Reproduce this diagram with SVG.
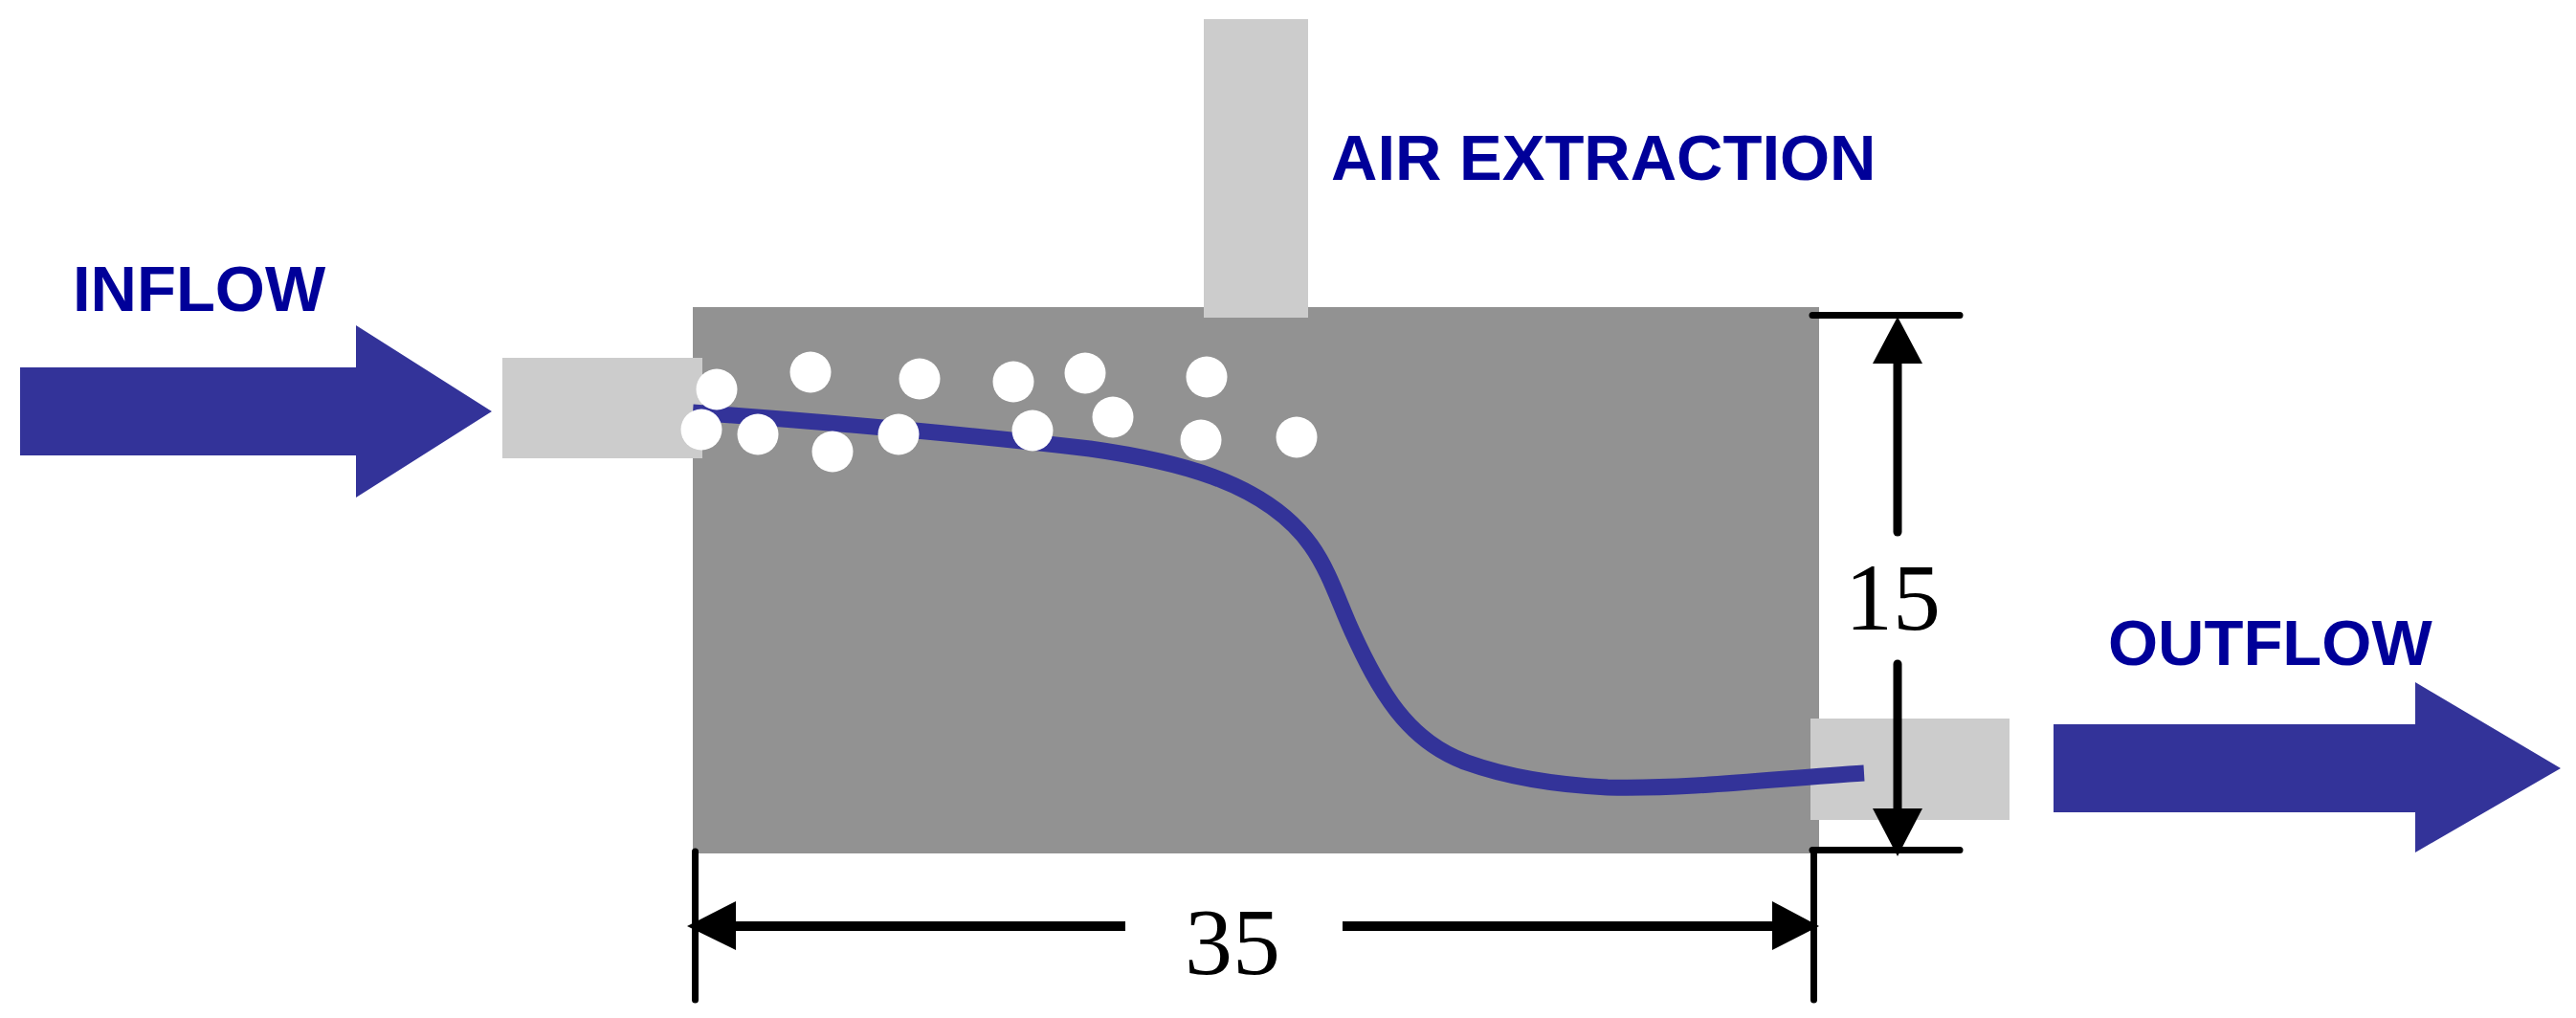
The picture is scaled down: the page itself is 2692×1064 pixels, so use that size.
<svg xmlns="http://www.w3.org/2000/svg" width="2692" height="1064" viewBox="0 0 2692 1064">
  <style>
    .lbl { font-family: "Liberation Sans", Arial, sans-serif; font-weight: bold; font-size: 67px; fill: #000099; }
    .dim { font-family: "Liberation Serif", "Times New Roman", serif; font-size: 100px; fill: #000000; }
    .port { fill: #CCCCCC; }
    .flow { fill: #333399; }
    .bubble { fill: #FFFFFF; }
    .dline { stroke: #000000; fill: none; stroke-linecap: round; }
    .ahead { fill: #000000; }
  </style>
  <rect width="2692" height="1064" fill="#FFFFFF"/>

  <g id="tank">
    <rect x="724" y="321" width="1177" height="571" fill="#929292"/>
  </g>

  <g id="inlet">
    <rect class="port" x="525" y="374" width="209" height="105"/>
  </g>
  <g id="air-extraction-duct">
    <rect class="port" x="1258" y="20" width="109" height="312"/>
  </g>
  <g id="outlet">
    <rect class="port" x="1892" y="751" width="208" height="106"/>
  </g>

  <g id="flow-path">
    <path d="M724,431 C862.7,441 1001,453 1139,469 C1222,480.7 1321.2,501.6 1370,570 C1389.2,596.9 1399.3,630 1413,660 C1426.2,688.9 1440.4,717.9 1460,743 C1478.7,766.9 1504.5,786.7 1533,797 C1579.8,813.8 1630.4,820.5 1680,823 C1769,825 1859.2,813.3 1948,808" fill="none" stroke="#333399" stroke-width="17"/>
  </g>

  <g id="bubbles">
    <circle class="bubble" cx="749" cy="407" r="21.5"/>
    <circle class="bubble" cx="847" cy="389" r="21.5"/>
    <circle class="bubble" cx="961" cy="396" r="21.5"/>
    <circle class="bubble" cx="1059" cy="399" r="21.5"/>
    <circle class="bubble" cx="1134" cy="390" r="21.5"/>
    <circle class="bubble" cx="1261" cy="394" r="21.5"/>
    <circle class="bubble" cx="1163" cy="436" r="21.5"/>
    <circle class="bubble" cx="733" cy="449" r="21.5"/>
    <circle class="bubble" cx="792" cy="454" r="21.5"/>
    <circle class="bubble" cx="870" cy="472" r="21.5"/>
    <circle class="bubble" cx="939" cy="454" r="21.5"/>
    <circle class="bubble" cx="1079" cy="450" r="21.5"/>
    <circle class="bubble" cx="1255" cy="460" r="21.5"/>
    <circle class="bubble" cx="1355" cy="457" r="21.5"/>
  </g>

  <g id="inflow-arrow">
    <polygon class="flow" points="21,384 372,384 372,340 514,430 372,520 372,476 21,476"/>
  </g>
  <g id="outflow-arrow">
    <polygon class="flow" points="2146,757 2524,757 2524,713 2676,803 2524,891 2524,849 2146,849"/>
  </g>

  <g id="labels">
    <text class="lbl" x="76" y="325">INFLOW</text>
    <text class="lbl" x="1391" y="188">AIR EXTRACTION</text>
    <text class="lbl" x="2203" y="695">OUTFLOW</text>
  </g>

  <g id="connectors">
    <!-- height dimension (15) -->
    <line class="dline" x1="1894" y1="329.5" x2="2048" y2="329.5" stroke-width="7"/>
    <line class="dline" x1="1894" y1="888.5" x2="2048" y2="888.5" stroke-width="7"/>
    <line class="dline" x1="1983" y1="378" x2="1983" y2="556" stroke-width="9"/>
    <line class="dline" x1="1983" y1="694" x2="1983" y2="847" stroke-width="9"/>
    <polygon class="ahead" points="1983,331 2009,380 1957,380"/>
    <polygon class="ahead" points="1983,895 2009,845 1957,845"/>
    <!-- length dimension (35) -->
    <line class="dline" x1="726.5" y1="890" x2="726.5" y2="1045" stroke-width="7"/>
    <line class="dline" x1="1895.5" y1="888.5" x2="1895.5" y2="1045" stroke-width="7"/>
    <line x1="767" y1="968" x2="1176" y2="968" stroke="#000000" stroke-width="10"/>
    <line x1="1403" y1="968" x2="1854" y2="968" stroke="#000000" stroke-width="10"/>
    <polygon class="ahead" points="718,968 769,942 769,993"/>
    <polygon class="ahead" points="1901,968 1852,942 1852,993"/>
  </g>

  <g id="dimension-labels">
    <text class="dim" x="1288" y="1018" text-anchor="middle">35</text>
    <text class="dim" x="1978" y="658" text-anchor="middle" font-size="98">15</text>
  </g>
</svg>
